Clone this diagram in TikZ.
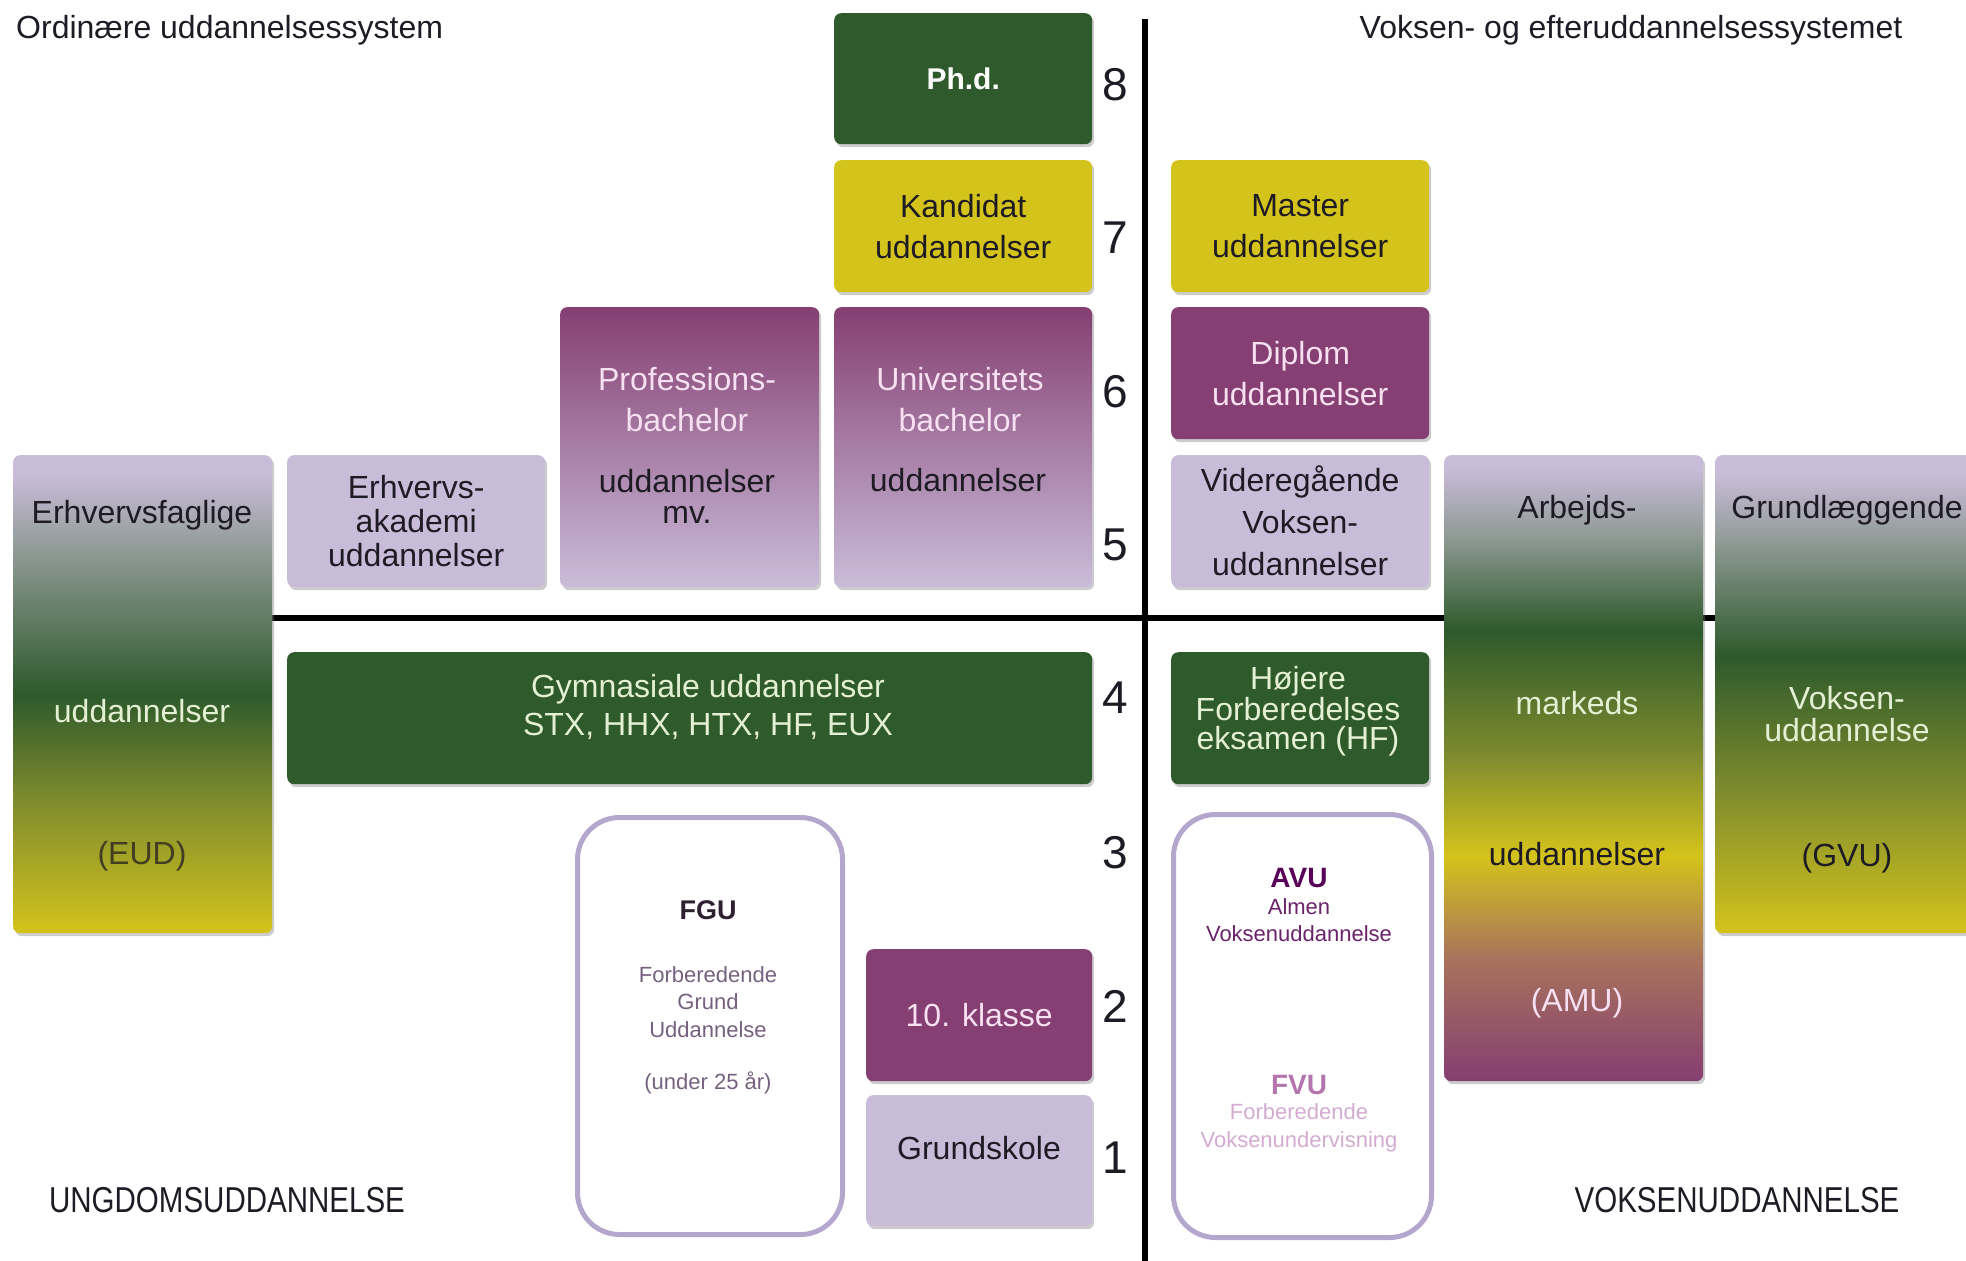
\documentclass[tikz,border=0pt]{standalone}
\usepackage{fontspec}
\setmainfont{Liberation Sans}
\newfontfamily\narrowfont{Liberation Sans}[FakeStretch=0.82]
\usetikzlibrary{shadows}

\definecolor{dgreen}{HTML}{2E5A2C}
\definecolor{ylw}{HTML}{D4C31B}
\definecolor{purp}{HTML}{853F72}
\definecolor{lav}{HTML}{C9BCD9}
\definecolor{oliv}{HTML}{7E8B2E}
\definecolor{greyg}{HTML}{8F9A95}
\definecolor{tanc}{HTML}{A9745B}
\definecolor{rimc}{HTML}{B4A7CE}
\definecolor{greentxt}{HTML}{E3F0D3}
\definecolor{purptxt}{HTML}{F7E0F2}
\definecolor{darktxt}{HTML}{1F1B24}

\newcommand\bxfont{\fontsize{32}{41}\selectfont}
\newcommand\smfont{\fontsize{22}{27.5}\selectfont}

% vertical shadings: 25bp is the bottom edge, 75bp the top edge
\pgfdeclareverticalshading{eudshade}{100bp}{color(0bp)=(ylw); color(25bp)=(ylw); color(39bp)=(oliv); color(50bp)=(dgreen); color(65bp)=(greyg); color(73bp)=(lav); color(100bp)=(lav)}
\pgfdeclareverticalshading{amushade}{100bp}{color(0bp)=(purp); color(25bp)=(purp); color(35bp)=(tanc); color(43bp)=(ylw); color(51bp)=(oliv); color(61bp)=(dgreen); color(68.5bp)=(greyg); color(74bp)=(lav); color(100bp)=(lav)}
\pgfdeclareverticalshading{gvushade}{100bp}{color(0bp)=(ylw); color(25bp)=(ylw); color(40bp)=(oliv); color(54bp)=(dgreen); color(66bp)=(greyg); color(73bp)=(lav); color(100bp)=(lav)}

\begin{document}
\begin{tikzpicture}[x=1pt,y=-1pt,
    box/.style={anchor=north west, rounded corners=7pt, inner sep=0pt, align=center,
        font=\bxfont, drop shadow={shadow xshift=2pt,shadow yshift=-3pt,opacity=.4}},
    greenbox/.style={box, fill=dgreen, text=greentxt},
    ylwbox/.style={box, fill=ylw, text=darktxt},
    purpbox/.style={box, fill=purp, text=purptxt},
    lavbox/.style={box, fill=lav, text=darktxt},
    bachbox/.style={box, top color=purp, bottom color=lav},
    rim/.style={anchor=north west, draw=rimc, line width=5pt, rounded corners=42pt, inner sep=0pt},
    txt/.style={inner sep=0pt, align=center, font=\bxfont},
    lvl/.style={inner sep=0pt, font=\fontsize{46}{46}\selectfont, text=darktxt},
    axisline/.style={line width=5.5pt, black}]

    \useasboundingbox (0,0) rectangle (1966,1261);
    \clip (0,0) rectangle (1966,1261);

    % axes
    \coordinate (vt) at (1145,19);
    \coordinate (vb) at (1145,1261);
    \coordinate (hl) at (272,618);
    \coordinate (hr) at (1715,618);
    \draw[axisline] (vt) -- (vb);
    \draw[axisline] (hl) -- (hr);

    % ordinary system
    \node[greenbox, text=white!92!greentxt, minimum width=258, minimum height=131, font=\fontsize{30}{36}\selectfont\bfseries] (phd) at (834,13) {Ph.d.};
    \node[ylwbox, minimum width=258, minimum height=132] (kand) at (834,160) {Kandidat\\uddannelser};
    \node[bachbox, minimum width=259, minimum height=280] (profbach) at (560,307) {};
    \node[bachbox, minimum width=258, minimum height=280] (unibach) at (834,307) {};
    \node[lavbox, minimum width=258, minimum height=132, font=\fontsize{32}{34}\selectfont] (eakad) at (287,455) {Erhvervs-\\akademi\\uddannelser};
    \node[box, shading=eudshade, minimum width=259, minimum height=478] (eud) at (13,455) {};
    \node[greenbox, minimum width=805, minimum height=132] (gym) at (287,652) {};
    \node[purpbox, minimum width=226, minimum height=132] (klasse) at (866,949) {10. klasse};
    \node[lavbox, minimum width=226, minimum height=131] (grund) at (866,1095) {};
    \node[rim, minimum width=265, minimum height=417] (fgu) at (575,815) {};

    \node[txt, text=purptxt] (profa) at (687,400) {Professions-\\bachelor};
    \node[txt, text=darktxt, font=\fontsize{32}{31}\selectfont] (profb) at (687,496) {uddannelser\\mv.};
    \node[txt, text=purptxt] (unia) at (960,400) {Universitets\\bachelor};
    \node[txt, text=darktxt] (unib) at (958,480) {uddannelser};
    \node[txt, text=darktxt] (euda) at (142,515) {Erhvervsfaglige};
    \node[txt, text=greentxt] (eudb) at (142,711) {uddannelser};
    \node[txt, text=darktxt!80!ylw] (eudc) at (142,856) {(EUD)};
    \node[txt, text=greentxt, font=\fontsize{32}{38}\selectfont] (gymt) at (708,707) {Gymnasiale uddannelser\\STX, HHX, HTX, HF, EUX};
    \node[txt, text=darktxt] (grundt) at (979,1148) {Grundskole};
    \node[txt, text=darktxt!85!purp, font=\fontsize{27}{27}\selectfont\bfseries] (fgua) at (708,910) {FGU};
    \node[txt, text=darktxt!45!rimc!80!purp, font=\smfont] (fgub) at (708,1002) {Forberedende\\Grund\\Uddannelse};
    \node[txt, text=darktxt!45!rimc!80!purp, font=\smfont] (fguc) at (708,1083) {(under 25 år)};

    % adult system
    \node[ylwbox, minimum width=258, minimum height=132] (master) at (1171,160) {Master\\uddannelser};
    \node[purpbox, minimum width=258, minimum height=132] (diplom) at (1171,307) {Diplom\\uddannelser};
    \node[lavbox, minimum width=258, minimum height=132, font=\fontsize{32}{42}\selectfont] (vvu) at (1171,455) {Videregående\\Voksen-\\uddannelser};
    \node[greenbox, minimum width=258, minimum height=132] (hf) at (1171,652) {};
    \node[rim, minimum width=258, minimum height=423] (avufvu) at (1171,812) {};
    \node[box, shading=amushade, minimum width=259, minimum height=626] (amu) at (1444,455) {};
    \node[box, shading=gvushade, minimum width=280, minimum height=478] (gvu) at (1715,455) {};

    \node[txt, text=greentxt, font=\fontsize{32}{29}\selectfont] (hft) at (1298,711) {Højere\\Forberedelses\\eksamen (HF)};
    \node[txt, text=violet!70!black, font=\fontsize{28}{28}\selectfont\bfseries] (avua) at (1299,878) {AVU};
    \node[txt, text=violet!60!darktxt!90!white, font=\smfont] (avub) at (1299,920) {Almen\\Voksenuddannelse};
    \node[txt, text=purp!40!violet!60!white, font=\fontsize{28}{28}\selectfont\bfseries] (fvua) at (1299,1085) {FVU};
    \node[txt, text=purp!25!violet!35!white, font=\smfont] (fvub) at (1299,1128) {Forberedende\\Voksenundervisning};
    \node[txt, text=darktxt] (amua) at (1577,510) {Arbejds-};
    \node[txt, text=greentxt] (amub) at (1577,703) {markeds};
    \node[txt, text=darktxt] (amuc) at (1577,854) {uddannelser};
    \node[txt, text=purptxt] (amud) at (1577,1003) {(AMU)};
    \node[txt, text=darktxt] (gvua) at (1847,510) {Grundlæggende};
    \node[txt, text=greentxt, font=\fontsize{32}{32}\selectfont] (gvub) at (1847,714) {Voksen-\\uddannelse};
    \node[txt, text=darktxt] (gvuc) at (1847,858) {(GVU)};

    % levels
    \foreach \lv/\ly in {8/85,7/238,6/392,5/545,4/698,3/853,2/1006,1/1158}
        \node[lvl] (n\lv) at (1115,\ly) {\lv};

    % headings
    \node[txt, anchor=west, text=darktxt] (ordtitle) at (16,30) {Ordinære uddannelsessystem};
    \node[txt, text=darktxt] (voktitle) at (1631,30) {Voksen- og efteruddannelsessystemet};
    \node[txt, text=darktxt, font=\narrowfont\fontsize{36}{36}\selectfont] (ungdom) at (227,1200) {UNGDOMSUDDANNELSE};
    \node[txt, text=darktxt, font=\narrowfont\fontsize{36}{36}\selectfont] (voksen) at (1737,1200) {VOKSENUDDANNELSE};
\end{tikzpicture}
\end{document}
